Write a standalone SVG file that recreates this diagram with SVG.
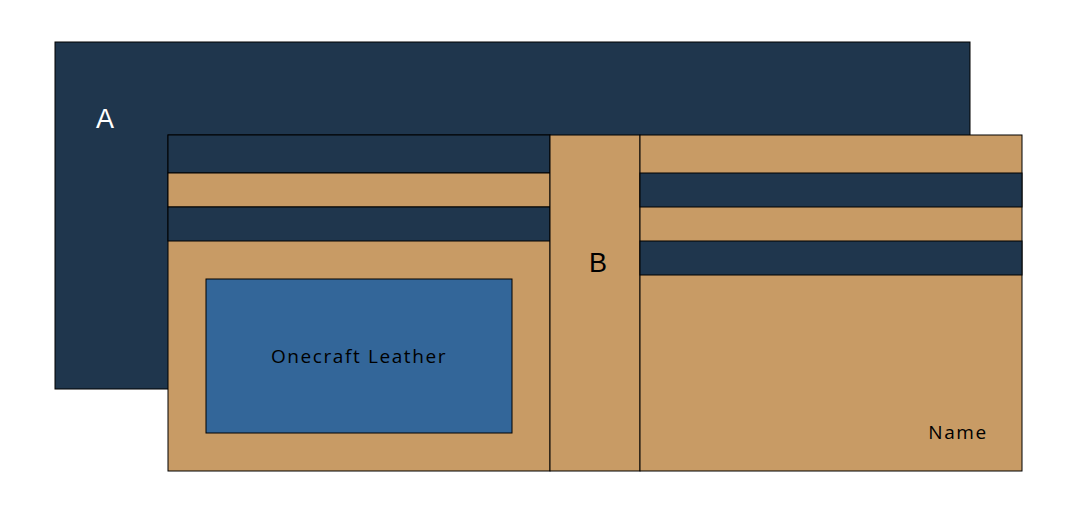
<svg xmlns="http://www.w3.org/2000/svg" width="1080" height="525" viewBox="0 0 1080 525">
<style>
.navy{fill:#1f364d;stroke:#000;stroke-width:1}
.tan{fill:#c89b65;stroke:#000;stroke-width:1}
.blue{fill:#336699;stroke:#000;stroke-width:1}
.lbl{font-family:"Liberation Sans",Arial,sans-serif;font-size:27px;text-anchor:middle;dominant-baseline:central}
.sm{font-family:"Open Sans","Noto Sans",sans-serif;font-size:19px;text-anchor:middle;dominant-baseline:central;fill:#000;letter-spacing:1.6px}
</style>
<rect width="1080" height="525" fill="#fff"/>
<g id="A">
<rect class="navy" x="55" y="42" width="915" height="347"/>
<text class="lbl" x="105" y="119" fill="#fff">A</text>
</g>
<g id="left">
<rect class="tan" x="168" y="135" width="382" height="336"/>
<rect class="navy" x="168" y="135" width="382" height="38"/>
<rect class="tan" x="168" y="173" width="382" height="34"/>
<rect class="navy" x="168" y="207" width="382" height="34"/>
</g>
<g id="card">
<rect class="blue" x="206" y="279" width="306" height="154"/>
<text class="sm" x="359" y="356">Onecraft Leather</text>
</g>
<g id="B">
<rect class="tan" x="550" y="135" width="90" height="336"/>
<text class="lbl" x="598" y="263" fill="#000">B</text>
</g>
<g id="right">
<rect class="tan" x="640" y="135" width="382" height="336"/>
<rect class="navy" x="640" y="173" width="382" height="34"/>
<rect class="navy" x="640" y="241" width="382" height="34"/>
<text class="sm" x="958" y="432">Name</text>
</g>
<g id="connectors"/>
</svg>
